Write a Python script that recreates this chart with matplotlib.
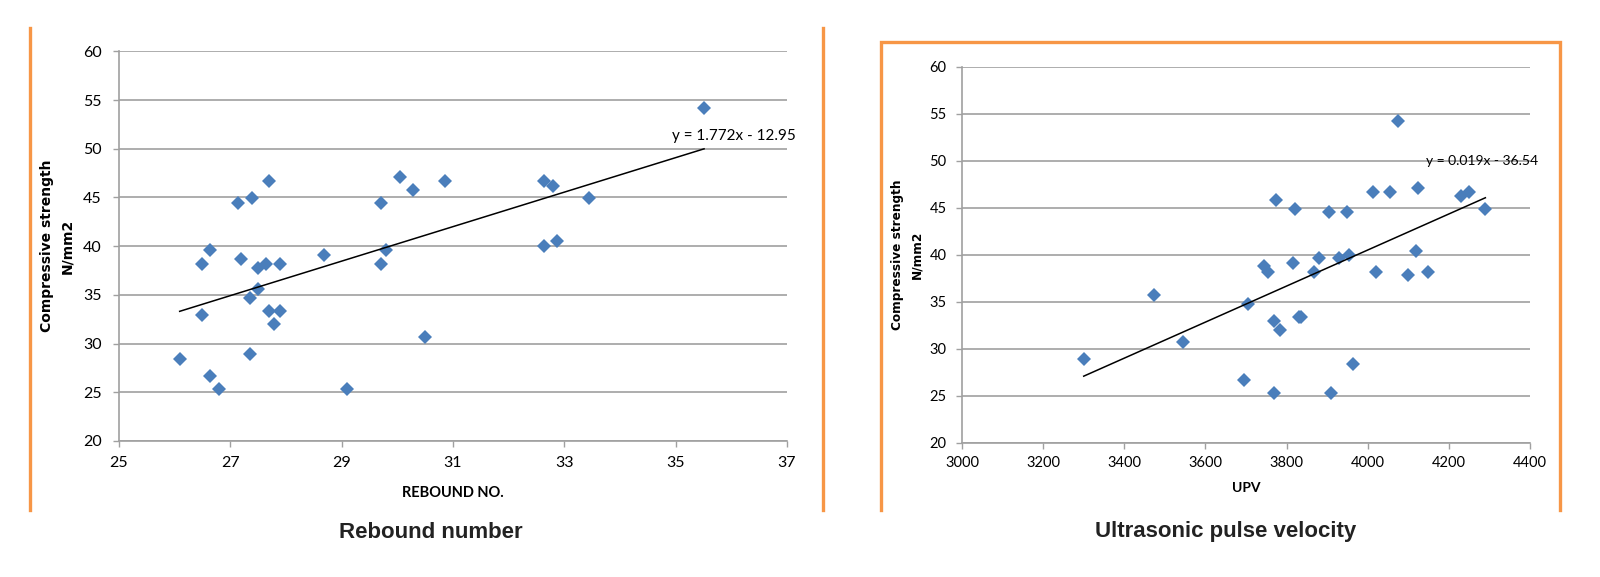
import numpy as np
import matplotlib
matplotlib.use('Agg')
import matplotlib.pyplot as plt
from matplotlib.lines import Line2D

plt.rcParams['font.family'] = ['Lato', 'DejaVu Sans']

# rebound number vs compressive strength
rebound = [26.09, 26.49, 26.49, 26.64, 26.64, 26.80, 27.13, 27.19, 27.39, 27.35,
           27.35, 27.49, 27.49, 27.64, 27.70, 27.70, 27.79, 27.89, 27.89, 28.69,
           29.10, 29.70, 29.70, 29.79, 30.05, 30.29, 30.50, 30.85, 32.64, 32.79,
           32.64, 32.86, 33.45, 35.51]
strength_rn = [28.4, 32.9, 38.2, 39.6, 26.7, 25.3, 44.4, 38.7, 44.9, 34.7,
               28.9, 37.8, 35.6, 38.2, 46.7, 33.3, 32.0, 38.2, 33.3, 39.1,
               25.3, 44.4, 38.2, 39.6, 47.1, 45.8, 30.7, 46.7, 46.7, 46.2,
               40.0, 40.5, 44.9, 54.2]

# ultrasonic pulse velocity vs compressive strength
upv = [3300, 3473, 3544, 3694, 3704, 3744, 3754, 3770, 3770, 3775,
       3785, 3815, 3820, 3830, 3835, 3868, 3879, 3904, 3910, 3929,
       3949, 3954, 3964, 4014, 4020, 4054, 4074, 4100, 4119, 4124,
       4149, 4230, 4250, 4290]
strength_upv = [28.9, 35.7, 30.7, 26.7, 34.8, 38.8, 38.2, 25.3, 33.0, 45.8,
                32.0, 39.1, 44.9, 33.35, 33.35, 38.2, 39.6, 44.5, 25.3, 39.6,
                44.5, 40.0, 28.4, 46.7, 38.2, 46.7, 54.2, 37.8, 40.4, 47.1,
                38.2, 46.2, 46.7, 44.9]

W, H = 1600, 577
fig = plt.figure(figsize=(16, 5.77), dpi=100)

blue = '#4A7EBB'
grey = '#A0A0A0'
orange = '#F79646'


def px(x, y):
    return x / W, 1 - y / H


def style_axes(ax, fs, ypad, xpad):
    for s in ['top', 'right']:
        ax.spines[s].set_visible(False)
    for s in ['left', 'bottom']:
        ax.spines[s].set_color(grey)
        ax.spines[s].set_linewidth(1.2)
    ax.grid(axis='y', color=grey, linewidth=1.2)
    ax.set_axisbelow(True)
    ax.tick_params(axis='both', direction='out', length=4.5, width=1, color=grey,
                   labelsize=fs, labelcolor='black')
    ax.tick_params(axis='y', pad=ypad)
    ax.tick_params(axis='x', pad=xpad)


def scatter_with_trend(ax, x, y, ms):
    ax.plot(x, y, linestyle='none', marker='D', markersize=ms, color=blue,
            markeredgewidth=0, zorder=3)
    k, b = np.polyfit(x, y, 1)
    xs = np.array([min(x), max(x)])
    ax.plot(xs, k * xs + b, color='black', linewidth=1.1, zorder=4)


# left chart
ax1 = fig.add_axes([119 / W, 1 - 441 / H, 668 / W, 389.7 / H])
scatter_with_trend(ax1, rebound, strength_rn, 7)
ax1.set_xlim(25, 37)
ax1.set_ylim(20, 60)
ax1.set_xticks(range(25, 38, 2))
ax1.set_yticks(range(20, 61, 5))
style_axes(ax1, 11.5, 8, 6)
ax1.text(34.93, 51.3, 'y = 1.772x - 12.95', fontsize=11, va='center', ha='left')
ax1.set_xlabel('REBOUND NO.', fontsize=10.5, fontweight='bold', va='center')
ax1.xaxis.set_label_coords(0.5, -0.133)
ax1.set_ylabel('Compressive strength\nN/mm2', fontsize=10, fontweight='bold',
               family='DejaVu Sans', linespacing=1.6, va='center')
ax1.yaxis.set_label_coords(-0.0925, 0.5)

# right chart
ax2 = fig.add_axes([962 / W, 1 - 442.7 / H, 568 / W, 376 / H])
scatter_with_trend(ax2, upv, strength_upv, 6.7)
ax2.set_xlim(3000, 4400)
ax2.set_ylim(20, 60)
ax2.set_xticks(range(3000, 4401, 200))
ax2.set_yticks(range(20, 61, 5))
style_axes(ax2, 10.5, 6.5, 5)
ax2.text(4143, 50.0, 'y = 0.019x - 36.54', fontsize=10, va='center', ha='left')
ax2.set_xlabel('UPV', fontsize=10, fontweight='bold', va='center')
ax2.xaxis.set_label_coords(0.5, -0.1205)
ax2.set_ylabel('Compressive strength\nN/mm2', fontsize=8.7, fontweight='bold',
               family='DejaVu Sans', linespacing=1.7, va='center')
ax2.yaxis.set_label_coords(-0.0963, 0.5)

# orange frames
lw = 2.4
fig.add_artist(Line2D(*zip(px(29.7, 28), px(29.7, 510)), color=orange, lw=lw))
fig.add_artist(Line2D(*zip(px(822.7, 28), px(822.7, 510)), color=orange, lw=lw))
box = [px(881, 510), px(881, 42.3), px(1560, 42.3), px(1560, 510)]
fig.add_artist(Line2D([p[0] for p in box], [p[1] for p in box], color=orange,
                      lw=lw, solid_joinstyle='miter'))

# panel captions
fig.text(*px(431, 532), 'Rebound number', fontsize=16, fontweight='bold',
         family='Liberation Sans', color='#222222', ha='center', va='center')
fig.text(*px(1225.7, 532), 'Ultrasonic pulse velocity', fontsize=16, fontweight='bold',
         family='Liberation Sans', color='#222222', ha='center', va='center')

fig.savefig('out.png', dpi=100)
